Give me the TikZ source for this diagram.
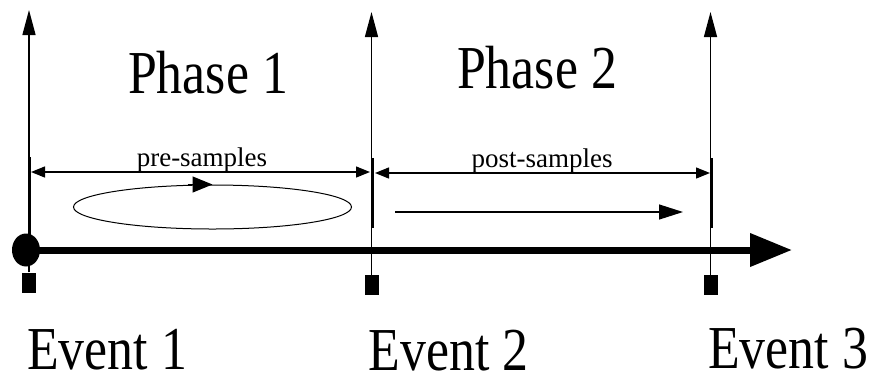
\documentclass[tikz,border=0pt]{standalone}
\usepackage{fontspec}
\setmainfont{Liberation Serif}
\usetikzlibrary{arrows.meta,shapes.geometric}
\tikzset{
  bigtext/.style={inner sep=0pt, anchor=base, font=\fontsize{61}{70}\selectfont},
  evtext/.style={bigtext, text depth=0pt, font=\fontsize{61}{70}\selectfont},
  smalltext/.style={inner sep=0pt, anchor=base, font=\fontsize{27}{30}\selectfont},
  evline/.style={line width=1.4pt, -{Triangle[length=25pt,width=13pt]}},
  evbar/.style={line width=3pt},
  dimline/.style={line width=1.3pt, {Triangle[length=14pt,width=11pt]}-{Triangle[length=14pt,width=11pt]}},
  flowarrow/.style={line width=1.3pt, -{Triangle[length=24pt,width=15pt]}},
  axisline/.style={line width=7pt, -{Triangle[length=42pt,width=32pt]}},
  sq/.style={fill=black, inner sep=0pt, minimum width=14pt, minimum height=20pt},
}
\begin{document}
\begin{tikzpicture}[x=1pt,y=-1pt]
\useasboundingbox (0,0) rectangle (873,376);
% squares at bottom of event lines
\node[sq] (s1) at (29,282.5) {};
\node[sq] (s2) at (371.5,285) {};
\node[sq] (s3) at (710.5,285) {};
% top ends
\coordinate (t1) at (29,10);
\coordinate (t2) at (371.5,12);
\coordinate (t3) at (710.5,12);
\draw[evline] (s1.north) -- (t1);
\draw[evline] (s2.north) -- (t2);
\draw[evline] (s3.north) -- (t3);
% thick bars
\coordinate (b1a) at (29,157); \coordinate (b1b) at (29,235);
\coordinate (b2a) at (372,158); \coordinate (b2b) at (372,228);
\coordinate (b3a) at (711,158); \coordinate (b3b) at (711,228);
\draw[evbar] (b1a) -- (b1b);
\draw[evbar] (b2a) -- (b2b);
\draw[evbar] (b3a) -- (b3b);
% main axis
\node[fill=black, ellipse, inner sep=0pt, minimum width=28pt, minimum height=33pt] (dot) at (26,250) {};
\coordinate (axend) at (792,250);
\draw[axisline] (dot.center) -- (axend);
% dimension lines
\coordinate (p1) at (31,172); \coordinate (p2) at (370,172);
\coordinate (q1) at (375,173); \coordinate (q2) at (710,173);
\draw[dimline] (p1) -- (p2);
\draw[dimline] (q1) -- (q2);
\node[smalltext] (pre) at (202,166) {pre-samples};
\node[smalltext] (post) at (542,167) {post-samples};
% ellipse loop
\node[draw, ellipse, line width=1pt, inner sep=0pt, minimum width=278pt, minimum height=44pt] (ell) at (212.5,207) {};
\draw[flowarrow, -{Triangle[length=20pt,width=16pt]}] ([xshift=-25pt]ell.north) -- (ell.north);
% straight arrow
\coordinate (a1) at (395,212); \coordinate (a2) at (683,212);
\draw[flowarrow] (a1) -- (a2);
% titles
\node[bigtext] (ph1) at (208,93) {\scalebox{0.85}[1]{Phase 1}};
\node[bigtext] (ph2) at (537,88) {\scalebox{0.85}[1]{Phase 2}};
% event labels
\node[evtext] (ev1) at (107,369.5) {\scalebox{0.85}[1]{Event 1}};
\node[evtext] (ev2) at (448.5,370) {\scalebox{0.85}[1]{Event 2}};
\node[evtext] (ev3) at (788,368) {\scalebox{0.85}[1]{Event 3}};
\end{tikzpicture}
\end{document}
